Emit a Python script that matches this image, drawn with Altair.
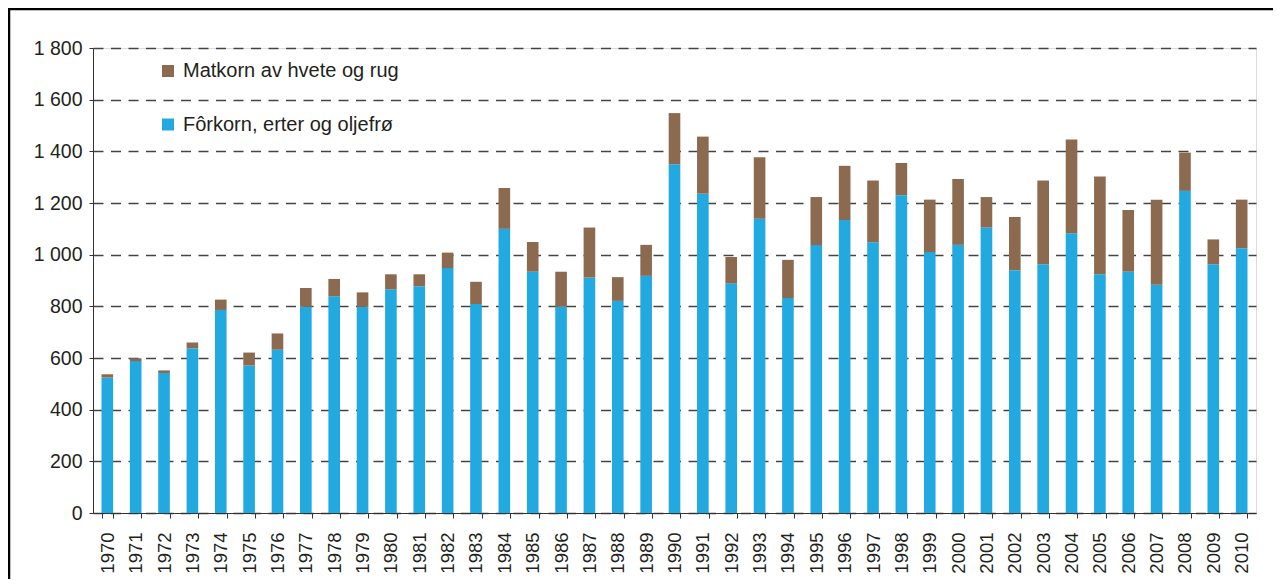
import altair as alt
import pandas as pd

years = [str(y) for y in range(1970, 2011)]
forkorn = [524, 588, 542, 638, 786, 571, 632, 798, 839, 798, 866, 878, 948, 809,
           1100, 934, 798, 911, 821, 918, 1350, 1236, 889, 1139, 832, 1037, 1134,
           1048, 1230, 1010, 1038, 1105, 940, 963, 1083, 924, 934, 884, 1247, 963, 1025]
matkorn = [13, 11, 10, 22, 40, 50, 63, 73, 67, 56, 58, 46, 60, 86,
           158, 115, 136, 194, 92, 120, 198, 221, 102, 238, 148, 186, 210,
           239, 125, 203, 255, 118, 206, 324, 363, 379, 239, 329, 148, 96, 188]
series = ["Matkorn av hvete og rug", "Fôrkorn, erter og oljefrø"]
colors = ["#8b6a50", "#22a9e0"]
y_ticks = [0, 200, 400, 600, 800, 1000, 1200, 1400, 1600, 1800]

rows = []
for i, yr in enumerate(years):
    rows.append({"year": yr, "serie": series[1], "value": forkorn[i], "ord": 0})
    rows.append({"year": yr, "serie": series[0], "value": matkorn[i], "ord": 1})
df = pd.DataFrame(rows)

FONT = "Liberation Sans"
TXT = "#231f20"

bars = alt.Chart(df).mark_bar().encode(
    x=alt.X("year:N", sort=years, title=None,
            scale=alt.Scale(paddingInner=0.59, paddingOuter=0.3),
            axis=alt.Axis(labelAngle=270, labelFontSize=18.5, labelFont=FONT,
                          labelColor=TXT, tickBand="extent", tickSize=5,
                          tickColor="#333333", domainColor="#333333",
                          labelPadding=14, grid=False)),
    y=alt.Y("value:Q", stack="zero", title=None,
            scale=alt.Scale(domain=[0, 1800], nice=False),
            axis=alt.Axis(values=y_ticks, labelFontSize=19.5, labelFont=FONT,
                          labelColor=TXT, tickSize=4, tickColor="#333333",
                          domainColor="#333333", labelPadding=7,
                          labelExpr="replace(format(datum.value, ','), ',', ' ')",
                          grid=True, gridColor="#444444", gridDash=[10, 7.5],
                          gridWidth=1.6)),
    color=alt.Color("serie:N", title=None,
                    scale=alt.Scale(domain=series, range=colors),
                    legend=alt.Legend(orient="none", legendX=65, legendY=13,
                                      symbolType="square", symbolSize=144,
                                      symbolStrokeWidth=0, labelFontSize=20,
                                      labelFont=FONT, labelColor=TXT, labelLimit=0,
                                      labelOffset=5, rowPadding=33.5, padding=0)),
    order=alt.Order("ord:Q"),
)

border = alt.Chart(alt.Data(values=[{}])).mark_rect(
    filled=False, stroke="black", strokeWidth=2.5
).encode(
    x=alt.value(-84), x2=alt.value(1300),
    y=alt.value(-39), y2=alt.value(700),
)

chart = alt.layer(bars, border).properties(
    width=1163, height=465,
    autosize=alt.AutoSizeParams(type="none"),
    padding={"left": 85, "top": 40, "right": 17, "bottom": 66},
).configure_view(stroke=None).configure(background="white")

chart.save("out.html", embed_options={"renderer": "svg", "actions": False})
